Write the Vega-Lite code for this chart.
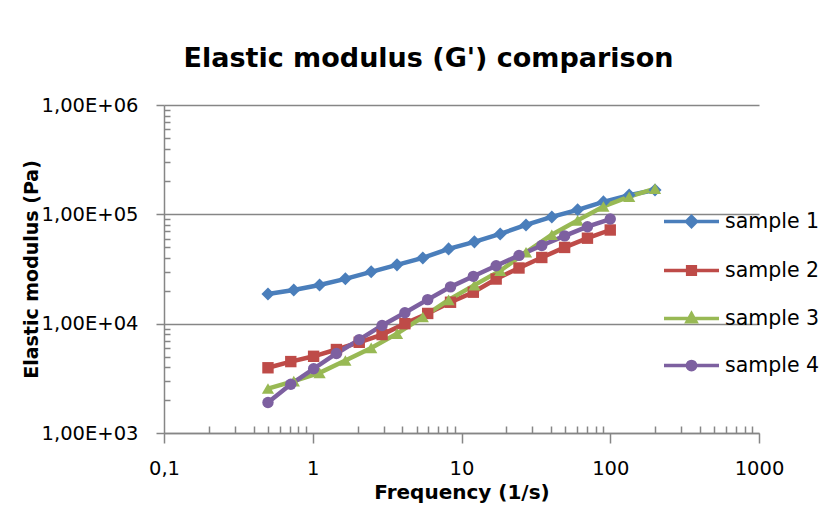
{
  "$schema": "https://vega.github.io/schema/vega-lite/v6.json",
  "width": 595,
  "height": 328,
  "autosize": {"type": "none"},
  "padding": {"left": 164, "top": 105, "right": 78, "bottom": 73},
  "background": "white",
  "config": {"view": {"stroke": null}, "font": "DejaVu Sans"},
  "title": {"text": "Elastic modulus (G') comparison", "font": "DejaVu Sans", "fontSize": 27, "fontWeight": "bold", "color": "black", "anchor": "middle", "dx": -33, "offset": 22},
  "data": {"values": [
    {"s": "sample 1", "f": 0.5, "g": 18700},
    {"s": "sample 1", "f": 0.7455, "g": 20300},
    {"s": "sample 1", "f": 1.1115, "g": 22600},
    {"s": "sample 1", "f": 1.657, "g": 25700},
    {"s": "sample 1", "f": 2.471, "g": 29800},
    {"s": "sample 1", "f": 3.684, "g": 34500},
    {"s": "sample 1", "f": 5.493, "g": 39900},
    {"s": "sample 1", "f": 8.19, "g": 48300},
    {"s": "sample 1", "f": 12.21, "g": 56000},
    {"s": "sample 1", "f": 18.21, "g": 66200},
    {"s": "sample 1", "f": 27.15, "g": 80000},
    {"s": "sample 1", "f": 40.47, "g": 94700},
    {"s": "sample 1", "f": 60.34, "g": 110000},
    {"s": "sample 1", "f": 89.97, "g": 130000},
    {"s": "sample 1", "f": 134.1, "g": 150000},
    {"s": "sample 1", "f": 200, "g": 167000},
    {"s": "sample 2", "f": 0.5, "g": 3950},
    {"s": "sample 2", "f": 0.7118, "g": 4500},
    {"s": "sample 2", "f": 1.0134, "g": 5030},
    {"s": "sample 2", "f": 1.4427, "g": 5800},
    {"s": "sample 2", "f": 2.0539, "g": 6750},
    {"s": "sample 2", "f": 2.924, "g": 7950},
    {"s": "sample 2", "f": 4.163, "g": 10000},
    {"s": "sample 2", "f": 5.926, "g": 12400},
    {"s": "sample 2", "f": 8.437, "g": 15700},
    {"s": "sample 2", "f": 12.01, "g": 19400},
    {"s": "sample 2", "f": 17.1, "g": 25600},
    {"s": "sample 2", "f": 24.35, "g": 32300},
    {"s": "sample 2", "f": 34.66, "g": 40300},
    {"s": "sample 2", "f": 49.34, "g": 49800},
    {"s": "sample 2", "f": 70.25, "g": 60500},
    {"s": "sample 2", "f": 100, "g": 71900},
    {"s": "sample 3", "f": 0.5, "g": 2550},
    {"s": "sample 3", "f": 0.7455, "g": 2980},
    {"s": "sample 3", "f": 1.1115, "g": 3550},
    {"s": "sample 3", "f": 1.657, "g": 4600},
    {"s": "sample 3", "f": 2.471, "g": 6000},
    {"s": "sample 3", "f": 3.684, "g": 8100},
    {"s": "sample 3", "f": 5.493, "g": 11500},
    {"s": "sample 3", "f": 8.19, "g": 16500},
    {"s": "sample 3", "f": 12.21, "g": 22500},
    {"s": "sample 3", "f": 18.21, "g": 30500},
    {"s": "sample 3", "f": 27.15, "g": 45000},
    {"s": "sample 3", "f": 40.47, "g": 65000},
    {"s": "sample 3", "f": 60.34, "g": 88000},
    {"s": "sample 3", "f": 89.97, "g": 118000},
    {"s": "sample 3", "f": 134.1, "g": 145000},
    {"s": "sample 3", "f": 200, "g": 172000},
    {"s": "sample 4", "f": 0.5, "g": 1900},
    {"s": "sample 4", "f": 0.7118, "g": 2790},
    {"s": "sample 4", "f": 1.0134, "g": 3870},
    {"s": "sample 4", "f": 1.4427, "g": 5340},
    {"s": "sample 4", "f": 2.0539, "g": 7150},
    {"s": "sample 4", "f": 2.924, "g": 9630},
    {"s": "sample 4", "f": 4.163, "g": 12600},
    {"s": "sample 4", "f": 5.926, "g": 16600},
    {"s": "sample 4", "f": 8.437, "g": 21700},
    {"s": "sample 4", "f": 12.01, "g": 27100},
    {"s": "sample 4", "f": 17.1, "g": 33900},
    {"s": "sample 4", "f": 24.35, "g": 42100},
    {"s": "sample 4", "f": 34.66, "g": 51900},
    {"s": "sample 4", "f": 49.34, "g": 63500},
    {"s": "sample 4", "f": 70.25, "g": 77100},
    {"s": "sample 4", "f": 100, "g": 90600}
  ]},
  "encoding": {
    "x": {"field": "f", "type": "quantitative",
      "scale": {"type": "log", "domain": [0.1, 1000], "nice": false},
      "axis": {"values": [0.1, 1, 10, 100, 1000], "labelExpr": "datum.value < 1 ? '0,1' : format(datum.value, 'd')",
        "tickSize": 10, "tickColor": "#868686", "domainColor": "#868686", "domainWidth": 1.5, "tickWidth": 1.5,
        "labelFont": "DejaVu Sans", "labelFontSize": 19.5, "labelColor": "black", "labelPadding": 16, "labelFlush": false, "labelOverlap": false,
        "grid": false, "title": "Frequency (1/s)", "titleFont": "DejaVu Sans", "titleFontSize": 20, "titleFontWeight": "bold", "titleColor": "black", "titlePadding": 5}},
    "y": {"field": "g", "type": "quantitative",
      "scale": {"type": "log", "domain": [1000, 1000000], "nice": false},
      "axis": {"values": [1000, 10000, 100000, 1000000], "labelExpr": "'1,00E+0' + round(log(datum.value)/LN10)",
        "tickSize": 8, "tickColor": "#868686", "domainColor": "#868686", "domainWidth": 1.5, "tickWidth": 1.5,
        "labelFont": "DejaVu Sans", "labelFontSize": 19.5, "labelColor": "black", "labelPadding": 18, "labelFlush": false, "labelOverlap": false,
        "grid": true, "gridColor": "#868686", "gridWidth": 1.5,
        "title": "Elastic modulus (Pa)", "titleFont": "DejaVu Sans", "titleFontSize": 19, "titleFontWeight": "bold", "titleColor": "black", "titlePadding": 0}},
    "color": {"field": "s", "type": "nominal",
      "scale": {"domain": ["sample 1", "sample 2", "sample 3", "sample 4"], "range": ["#4A7EBB", "#BE4B48", "#98B954", "#7D60A0"]},
      "legend": {"orient": "none", "legendX": 498, "legendY": 87, "title": null, "padding": 0,
        "labelFont": "DejaVu Sans", "labelFontSize": 20.5, "labelColor": "black", "labelOffset": 4,
        "symbolSize": 3025, "rowPadding": 7,
        "encode": {"symbols": {"update": {
          "shape": {"signal": "datum.value === 'sample 1' ? 'M-1,0L1,0M0,-0.18L0.18,0L0,0.18L-0.18,0Z' : datum.value === 'sample 2' ? 'M-1,0L1,0M-0.14,-0.14L0.14,-0.14L0.14,0.14L-0.14,0.14Z' : datum.value === 'sample 3' ? 'M-1,0L1,0M0,-0.17L0.16,0.12L-0.16,0.12Z' : 'M-1,0L1,0M0.15,0A0.15,0.15,0,1,1,-0.15,0A0.15,0.15,0,1,1,0.15,0Z'"},
          "fill": {"scale": "color", "field": "value"},
          "stroke": {"scale": "color", "field": "value"},
          "strokeWidth": {"value": 3.5},
          "opacity": {"value": 1},
          "fillOpacity": {"value": 1}
        }}}}}
  },
  "layer": [
    {"mark": {"type": "line", "strokeWidth": 4.5}},
    {"transform": [{"filter": "datum.s === 'sample 1'"}],
      "mark": {"type": "point", "filled": true, "opacity": 1, "size": 170, "shape": "diamond"},
      "encoding": {
        "x": {"field": "f", "type": "quantitative",
          "axis": {"orient": "top", "offset": -328, "values": [0.2, 0.3, 0.4, 0.5, 0.6, 0.7, 0.8, 0.9, 2, 3, 4, 5, 6, 7, 8, 9, 20, 30, 40, 50, 60, 70, 80, 90, 200, 300, 400, 500, 600, 700, 800, 900],
            "labels": false, "domain": false, "grid": false, "title": null, "tickSize": 7, "tickColor": "#868686", "tickWidth": 1.5}},
        "y": {"field": "g", "type": "quantitative",
          "axis": {"orient": "right", "offset": -595, "values": [2000, 3000, 4000, 5000, 6000, 7000, 8000, 9000, 20000, 30000, 40000, 50000, 60000, 70000, 80000, 90000, 200000, 300000, 400000, 500000, 600000, 700000, 800000, 900000],
            "labels": false, "domain": false, "grid": false, "title": null, "tickSize": 6, "tickColor": "#868686", "tickWidth": 1.5}}
      }},
    {"transform": [{"filter": "datum.s === 'sample 2'"}],
      "mark": {"type": "point", "filled": true, "opacity": 1, "size": 130, "shape": "square"},
      "encoding": {"x": {"field": "f", "type": "quantitative", "axis": null}, "y": {"field": "g", "type": "quantitative", "axis": null}}},
    {"transform": [{"filter": "datum.s === 'sample 3'"}],
      "mark": {"type": "point", "filled": true, "opacity": 1, "size": 150, "shape": "triangle-up"},
      "encoding": {"x": {"field": "f", "type": "quantitative", "axis": null}, "y": {"field": "g", "type": "quantitative", "axis": null}}},
    {"transform": [{"filter": "datum.s === 'sample 4'"}],
      "mark": {"type": "point", "filled": true, "opacity": 1, "size": 130, "shape": "circle"},
      "encoding": {"x": {"field": "f", "type": "quantitative", "axis": null}, "y": {"field": "g", "type": "quantitative", "axis": null}}}
  ],
  "resolve": {"axis": {"x": "independent", "y": "independent"}}
}
